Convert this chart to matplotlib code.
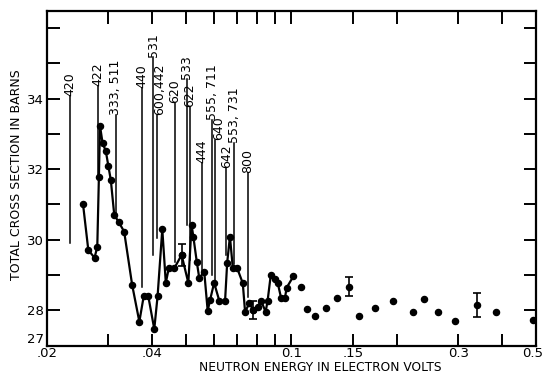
import matplotlib
matplotlib.use("Agg")
import matplotlib.pyplot as plt
from matplotlib.ticker import FixedLocator, FixedFormatter, NullLocator
from matplotlib.transforms import ScaledTranslation

# Datos medidos (curva continua)
energia_linea = [.0254, .0263, .0274, .0279, .0282, .0284, .0289, .0295, .0300, .0305,
                 .0312, .0321, .0333, .0351, .0368, .0379, .0390, .0406, .0415, .0428,
                 .0438, .0447, .0463, .0486, .0508, .0519, .0525, .0537, .0546, .0564,
                 .0577, .0586, .0602, .0623, .0647, .0656, .0668, .0681, .0701, .0727,
                 .0738, .0759, .0779, .0802, .0820, .0845, .0856, .0874, .0898, .0915,
                 .0935, .0960, .0970, .1015]
seccion_linea = [31.01, 29.71, 29.49, 29.80, 31.79, 33.23, 32.73, 32.52, 32.10, 31.69,
                 30.70, 30.51, 30.23, 28.72, 27.68, 28.42, 28.42, 27.47, 28.41, 30.30,
                 28.78, 29.21, 29.19, 29.57, 28.78, 30.42, 30.09, 29.38, 28.91, 29.10,
                 27.99, 28.29, 28.78, 28.27, 28.27, 29.35, 30.09, 29.19, 29.19, 28.77,
                 27.96, 28.20, 28.01, 28.10, 28.27, 27.96, 28.27, 29.00, 28.88, 28.78,
                 28.36, 28.36, 28.64, 28.97]

# Puntos sueltos a energias altas
energia_puntos = [.1065, .111, .117, .126, .135, .156, .174, .195, .223, .239, .263,
                  .294, .385, .49]
seccion_puntos = [28.67, 28.04, 27.84, 28.06, 28.36, 27.84, 28.08, 28.27, 27.95, 28.32,
                  27.95, 27.71, 27.95, 27.73]

# Puntos con barra de error
energia_err = [.0486, .0779, .1466, .339]
seccion_err = [29.57, 28.01, 28.67, 28.15]
error = [0.30, 0.26, 0.27, 0.33]

# Bordes de Bragg: energia, base, tope, etiqueta
bragg_energia = [.0233, .0281, .0315, .0375, .0403, .0414, .0465, .0503, .0514, .0556,
                 .0594, .0604, .0653, .0684, .0750]
bragg_base = [29.91, 31.79, 30.76, 28.67, 29.57, 30.05, 29.38, 30.42, 29.43, 29.10,
              29.00, 28.86, 29.57, 29.31, 28.39]
bragg_tope = [34.07, 34.35, 33.54, 34.29, 35.19, 33.54, 33.87, 34.55, 33.77, 32.17,
              33.39, 32.83, 32.03, 32.73, 31.88]
bragg_etiqueta = ["420", "422", "333, 511", "440", "531", "600,442", "620", "533", "622",
                  "444", "555, 711", "640", "642", "553, 731", "800"]

x_ticks = [.02, .03, .04, .05, .06, .07, .08, .09, .1, .15, .2, .3, .4, .5]
x_tick_labels = [".02", "", ".04", "", "", "", "", "", "0.1", ".15", "", "0.3", "", "0.5"]
y_ticks = [27, 28, 29, 30, 31, 32, 33, 34, 35, 36]
y_tick_labels = ["27", "28", "", "30", "", "32", "", "34", "", ""]

fig = plt.figure(figsize=(5.45, 3.74), dpi=100)
ax = fig.add_axes([0.0857, 0.0757, 0.8973, 0.8949])

ax.plot(energia_linea, seccion_linea, color="black", lw=1.6, marker="o", ms=4.4)
ax.plot(energia_puntos, seccion_puntos, color="black", lw=0, marker="o", ms=4.4)
ax.errorbar(energia_err, seccion_err, yerr=error, fmt="o", color="black", ms=4.4,
            elinewidth=1.2, capsize=3, capthick=1.2)

# desplazamiento horizontal (px) de algunas etiquetas para que no se pisen
desplazar = {"600,442": 2, "640": 4, "553, 731": 1}
for e, b, t, lab in zip(bragg_energia, bragg_base, bragg_tope, bragg_etiqueta):
    ax.plot([e, e], [b, t], color="black", lw=1.1)
    dx = desplazar.get(lab, 0) / 100
    tr = ax.transData + ScaledTranslation(dx, 0, fig.dpi_scale_trans)
    ax.text(e, t, lab, rotation=90, ha="center", va="bottom", fontsize=9, transform=tr)

ax.set_xscale("log")
ax.set_xlim(0.02, 0.5)
ax.set_ylim(27, 36.48)
ax.xaxis.set_major_locator(FixedLocator(x_ticks))
ax.xaxis.set_major_formatter(FixedFormatter(x_tick_labels))
ax.xaxis.set_minor_locator(NullLocator())
ax.yaxis.set_major_locator(FixedLocator(y_ticks))
ax.yaxis.set_major_formatter(FixedFormatter(y_tick_labels))
ax.tick_params(direction="in", length=9, width=1.4, top=True, right=True,
               labelsize=9.5, pad=2)
ax.tick_params(axis="x", pad=1)
for s in ax.spines.values():
    s.set_linewidth(1.6)

fig.canvas.draw()
ultima = ax.get_xticklabels()[-1]
ultima.set_transform(ultima.get_transform() + ScaledTranslation(-0.03, 0, fig.dpi_scale_trans))
ax.get_yticklabels()[0].set_verticalalignment("bottom")

ax.set_ylabel("TOTAL CROSS SECTION IN BARNS", fontsize=9)
ax.set_xlabel("NEUTRON ENERGY IN ELECTRON VOLTS", fontsize=8.8)
ax.yaxis.set_label_coords(-0.048, 0.51)
ax.xaxis.set_label_coords(0.56, -0.047)

fig.savefig("out.png", dpi=100)
